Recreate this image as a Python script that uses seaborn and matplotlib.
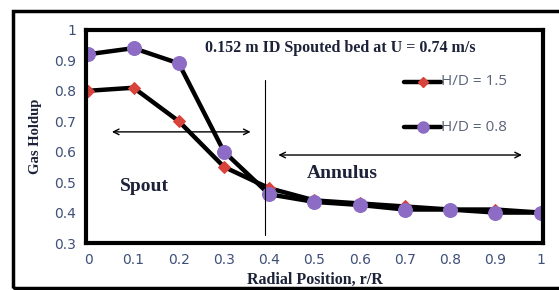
import numpy as np
import pandas as pd
import seaborn as sns
import matplotlib
matplotlib.use("Agg")
import matplotlib.pyplot as plt
from matplotlib.patches import Rectangle

sns.set_style("white")

# radial positions and measured gas holdup
r_R = [0.0, 0.1, 0.2, 0.3, 0.4, 0.5, 0.6, 0.7, 0.8, 0.9, 1.0]
hd_15 = [0.80, 0.81, 0.70, 0.55, 0.48, 0.44, 0.43, 0.42, 0.41, 0.41, 0.40]
hd_08 = [0.92, 0.94, 0.89, 0.60, 0.46, 0.435, 0.425, 0.41, 0.41, 0.40, 0.40]
labels = ["H/D = 1.5", "H/D = 0.8"]

df = pd.DataFrame({"r": r_R * 2,
                   "holdup": hd_15 + hd_08,
                   "case": [labels[0]] * len(r_R) + [labels[1]] * len(r_R)})

fig = plt.figure(figsize=(5.59, 2.9), dpi=100)
ax = fig.add_axes([0.154, 0.162, 0.817, 0.735])

# outer frame
fig.patches.append(Rectangle((0.024, 0.008), 1.0, 0.954, transform=fig.transFigure,
                             fill=False, lw=2.5, ec="black"))

sns.lineplot(data=df, x="r", y="holdup", hue="case", style="case",
             palette={labels[0]: "black", labels[1]: "black"},
             markers={labels[0]: "D", labels[1]: "o"}, dashes=False,
             lw=3.2, ax=ax, legend=False)
# recolour markers
for line, col, ms in zip(ax.lines, ["#d8433c", "#8c6cc4"], [6, 10]):
    line.set_markerfacecolor(col)
    line.set_markeredgecolor(col)
    line.set_markersize(ms)

ax.set_xlim(-0.005, 1.005)
ax.set_ylim(0.3, 1.0)
ax.set_xticks(np.arange(0, 1.01, 0.1))
ax.set_xticklabels(["0", "0.1", "0.2", "0.3", "0.4", "0.5", "0.6", "0.7", "0.8", "0.9", "1"])
ax.set_yticks(np.arange(0.3, 1.01, 0.1))
ax.set_yticklabels(["0.3", "0.4", "0.5", "0.6", "0.7", "0.8", "0.9", "1"])
ax.tick_params(axis="both", labelsize=10, labelcolor="#3f4f78", length=0, pad=7)
ax.set_xticks(np.arange(0, 1.01, 0.02), minor=True)
ax.set_yticks(np.arange(0.3, 1.0, 0.02), minor=True)
ax.tick_params(which="minor", direction="in", length=2, color="#777777")
for s in ax.spines.values():
    s.set_linewidth(3)
    s.set_color("black")

serif = ["Liberation Serif", "DejaVu Serif"]
ax.set_xlabel("Radial Position, r/R", fontsize=11.5, fontweight="bold", family=serif,
              color="#1c2238", labelpad=4)
ax.set_ylabel("Gas Holdup", fontsize=10.5, fontweight="bold", family=serif,
              color="#1c2238", labelpad=9)

ax.text(0.558, 0.94, "0.152 m ID Spouted bed at U = 0.74 m/s", ha="center", va="center",
        fontsize=11.5, fontweight="bold", family=serif, color="#1c2238")

# spout / annulus markers
ax.plot([0.39, 0.39], [0.326, 0.836], color="black", lw=0.8)
ax.annotate("", xy=(0.046, 0.665), xytext=(0.365, 0.665),
            arrowprops=dict(arrowstyle="<->", lw=1.0, color="black"))
ax.annotate("", xy=(0.414, 0.589), xytext=(0.965, 0.589),
            arrowprops=dict(arrowstyle="<->", lw=1.0, color="black"))
ax.text(0.07, 0.484, "Spout", fontsize=14, fontweight="bold", family=serif,
        color="#1c2238", va="center")
ax.text(0.484, 0.527, "Annulus", fontsize=14, fontweight="bold", family=serif,
        color="#1c2238", va="center")

# legend entries
for y, col, mk, ms, lab in [(0.83, "#d8433c", "D", 5, labels[0]),
                             (0.68, "#8c6cc4", "o", 8, labels[1])]:
    ax.plot([0.698, 0.78], [y, y], color="black", lw=3.2)
    ax.plot([0.739], [y], marker=mk, ms=ms, color=col, ls="none")
    ax.text(0.78, y, lab, fontsize=11, color="#5a6478", va="center",
            family=["Open Sans", "DejaVu Sans"])

fig.savefig("out.png", dpi=100)
